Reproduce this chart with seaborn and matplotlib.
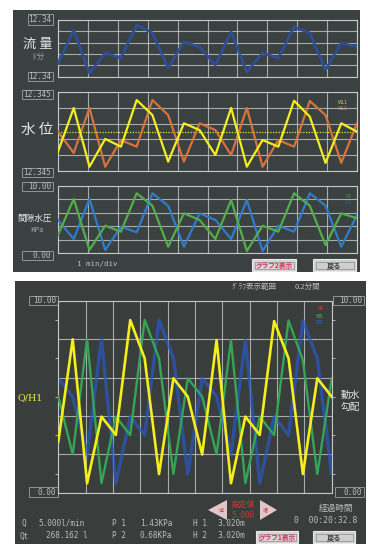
import numpy as np
import pandas as pd
import seaborn as sns
import matplotlib
matplotlib.use("Agg")
import matplotlib.pyplot as plt
from matplotlib.patches import Rectangle, Polygon

# ---------------- data ----------------
steps = list(range(20))
flow = [1.18, 4.12, 0.30, 2.09, 1.65, 4.56, 3.86, 0.77, 3.06, 2.62,
        1.03, 3.95, 0.41, 2.09, 1.65, 4.39, 3.86, 0.59, 2.97, 2.62]
wl1 = [1.22, 3.99, 0.27, 2.03, 1.54, 4.49, 3.54, 0.59, 3.02, 2.59,
       1.01, 3.99, 0.27, 1.96, 1.54, 4.45, 3.44, 0.51, 3.02, 2.49]
wl2 = [2.49, 1.14, 3.99, 0.27, 1.96, 1.54, 4.49, 3.54, 0.59, 3.02,
       2.59, 1.01, 3.99, 0.27, 1.96, 1.54, 4.43, 3.54, 0.51, 3.02]
p1 = [2.72, 8.07, 0.49, 4.10, 3.21, 8.92, 7.07, 0.98, 5.94, 4.95,
      2.12, 7.92, 0.34, 4.10, 3.21, 8.92, 7.07, 1.23, 5.94, 5.20]
p2 = [4.95, 2.12, 8.07, 0.49, 3.95, 3.12, 8.92, 7.07, 0.98, 5.94,
      4.95, 2.12, 7.92, 0.34, 4.10, 3.21, 8.92, 7.07, 0.98, 5.69]
qh1 = [2.66, 7.99, 0.49, 3.96, 3.01, 8.99, 7.00, 0.97, 5.96, 5.00,
       1.99, 7.95, 0.49, 3.96, 3.01, 8.94, 7.00, 0.97, 5.96, 5.00]
grad1 = [5.00, 2.00, 8.00, 0.50, 3.96, 3.00, 9.00, 7.00, 0.97, 5.96,
         5.00, 2.00, 7.95, 0.50, 3.96, 3.00, 8.97, 6.90, 0.97, 5.96]
grad2 = [5.96, 5.00, 2.00, 8.00, 0.50, 3.96, 3.00, 9.00, 7.00, 0.97,
         5.96, 5.00, 2.00, 7.95, 0.50, 3.96, 3.00, 8.95, 7.00, 0.97]
wl_ref = 2.5

plt.rcParams['font.family'] = ['Noto Sans CJK JP', 'DejaVu Sans']
MONO = 'DejaVu Sans Mono'

W, H = 368, 544
fig = plt.figure(figsize=(W / 100, H / 100), dpi=100)
fig.patch.set_facecolor('white')

# background axes in pixel coordinates
bg = fig.add_axes([0, 0, 1, 1])
bg.set_xlim(0, W)
bg.set_ylim(H, 0)
bg.axis('off')

bg.add_patch(Rectangle((13, 10), 347, 262, facecolor='#3b4040', edgecolor='none'))
bg.add_patch(Rectangle((15, 281), 351, 263, facecolor='#393e3d', edgecolor='none'))

GRID = '#c4c8c8'
TXT = '#b9bebe'


def panel(x0, y0, x1, y1, ymax):
    ax = fig.add_axes([x0 / W, 1 - y1 / H, (x1 - x0) / W, (y1 - y0) / H])
    ax.set_facecolor('none')
    ax.set_xlim(0, 19)
    ax.set_ylim(0, ymax)
    ax.set_xticks(np.linspace(0, 19, 11))
    ax.set_yticks(np.linspace(0, ymax, 6))
    ax.grid(True, color=GRID, lw=0.8, alpha=0.8)
    ax.tick_params(length=0, labelbottom=False, labelleft=False)
    for s in ax.spines.values():
        s.set_color(GRID)
        s.set_linewidth(0.8)
    return ax


def draw(ax, y, color, lw, alpha=1.0, z=3):
    df = pd.DataFrame({'t': steps, 'v': y})
    sns.lineplot(data=df, x='t', y='v', ax=ax, color=color, lw=lw,
                 alpha=alpha, zorder=z, estimator=None, sort=False)
    ax.set_xlabel('')
    ax.set_ylabel('')


# ---- top screen panels ----
a1 = panel(58, 20, 357, 76.7, 5)
draw(a1, flow, '#2c4f95', 2.0)

a2 = panel(58, 92, 357, 171, 5)
a2.axhline(wl_ref, color='#e8e640', ls=(0, (1, 1.2)), lw=0.9, zorder=2)
draw(a2, wl2, '#d6733c', 1.6, z=3)
draw(a2, wl1, '#f2ee22', 1.6, z=4)

a3 = panel(58, 186, 357, 253.3, 10)
draw(a3, p2, '#2f7cc9', 1.6, z=3)
draw(a3, p1, '#53ad4c', 1.6, z=4)

# ---- bottom screen panel ----
a4 = panel(58.3, 300.7, 331.7, 492.7, 10)
a4.set_yticks(np.arange(1, 10, 2), minor=True)
a4.tick_params(which='minor', length=2.5, direction='out', color=GRID,
               left=True, right=True, labelleft=False)
draw(a4, grad2, '#2a58c4', 2.4, alpha=0.7, z=2)
draw(a4, grad1, '#35a455', 1.7, z=3)
draw(a4, qh1, '#f5ee1c', 1.9, z=4)


# ---------------- texts ----------------
def box(x0, y0, x1, y1, label, fs=5.6):
    bg.add_patch(Rectangle((x0, y0), x1 - x0, y1 - y0, facecolor='none',
                           edgecolor='#8f9595', lw=0.7))
    bg.text(x1 - 1.5, (y0 + y1) / 2 + 0.3, label, ha='right', va='center',
            fontsize=fs, color=TXT, family=MONO)


box(27.5, 14, 52.5, 25, '12.34')
box(27.5, 72, 52.5, 81, '12.34')
box(22, 90, 52.5, 99, '12.345')
box(22, 168, 52.5, 177, '12.345')
box(22, 181.5, 52.5, 190.5, '10.00')
box(22, 250.5, 52.5, 259.5, '0.00')

bg.text(37.5, 44, '流 量', ha='center', va='center', fontsize=9.5, color='#e6e8e8')
bg.text(38, 57, 'l/分', ha='center', va='center', fontsize=5.2, color='#9ea4a4')
bg.text(37, 130, '水 位', ha='center', va='center', fontsize=10.5, color='#e6e8e8')
bg.text(34.5, 218, '間隙水圧', ha='center', va='center', fontsize=6.2, color='#e6e8e8')
bg.text(37, 230, 'KPa', ha='center', va='center', fontsize=5.2, color='#a8aeae')
bg.text(97, 264, '1 min/div', ha='center', va='center', fontsize=5.3,
        color=TXT, family=MONO)

bg.text(338, 103, 'WL1', fontsize=3.6, color='#c9c374', va='center')
bg.text(338, 108, 'WL2', fontsize=3.6, color='#c08055', va='center')
bg.text(345, 197, 'P1', fontsize=3.8, color='#4f9a4a', va='center')
bg.text(345, 203, 'P2', fontsize=3.8, color='#2d5f99', va='center')


def button(x0, y0, x1, y1, label, tcol, fcol, fs=4.8):
    bg.add_patch(Rectangle((x0, y0), x1 - x0, y1 - y0, facecolor=fcol,
                           edgecolor='#e8e8e8', lw=0.8))
    bg.add_patch(Rectangle((x0 + 2.5, y0 + 2.5), x1 - x0 - 5, y1 - y0 - 5,
                           facecolor='none', edgecolor='#8c8c8c', lw=0.5))
    bg.text((x0 + x1) / 2, (y0 + y1) / 2 + 0.3, label, ha='center', va='center',
            fontsize=fs, color=tcol, fontweight='bold')


button(252, 259, 296, 271, 'グラフ2表示', '#d8305c', '#d9d3d6')
button(313, 259, 356, 271, '戻る', '#3a3a3a', '#cfcfcf', fs=5.2)

# bottom screen
bg.text(232, 287, 'ｸﾞﾗﾌ表示範囲', ha='left', va='center', fontsize=5.4, color=TXT)
bg.text(295, 287, '0.2分間', ha='left', va='center', fontsize=5.4, color=TXT)
box(29, 296, 58, 305, '10.00')
box(333, 296, 364, 305, '10.00')
box(29, 487, 58, 497, '0.00')
box(335, 487, 364, 497, '0.00')

bg.text(30.5, 398, 'Q/H1', ha='center', va='center', fontsize=6.8,
        color='#eee640', family=['DejaVu Serif'])
bg.text(350, 395, '動水', ha='center', va='center', fontsize=7, color='#e6e8e8')
bg.text(350, 407, '勾配', ha='center', va='center', fontsize=7, color='#e6e8e8')

bg.text(318, 309, '中', fontsize=3.8, color='#c04545', va='center')
bg.text(316, 316, '間1', fontsize=3.8, color='#3d9a55', va='center')
bg.text(316, 322, '間2', fontsize=3.8, color='#2d55a5', va='center')

bg.add_patch(Polygon([[208, 510], [227, 500], [227, 520]], closed=True,
                     facecolor='#e2c6c8', edgecolor='none'))
bg.add_patch(Polygon([[277, 510], [260, 500], [260, 520]], closed=True,
                     facecolor='#e2c6c8', edgecolor='none'))
bg.text(221, 510, '減', fontsize=3.5, color='#c03040', ha='center', va='center')
bg.text(265, 510, '増', fontsize=3.5, color='#c03040', ha='center', va='center')
bg.text(243, 505, '設定値', fontsize=5.6, color='#c23a3a', ha='center', va='center')
bg.text(243, 515.5, '5.000', fontsize=5.6, color='#c23a3a', ha='center', va='center',
        family=MONO)

bg.text(336, 508, '経過時間', fontsize=6.2, color=TXT, ha='center', va='center')
bg.text(357, 520.5, '0  00:20:32.8', fontsize=5.8, color=TXT, ha='right', va='center',
        family=MONO)

info = [(22, 523, 'Q'), (38, 523, '5.000l/min'), (20, 536, 'Qt'), (46, 536, '268.162 l'),
        (112, 523, 'P 1'), (140, 523, '1.43KPa'), (112, 536, 'P 2'), (140, 536, '0.68KPa'),
        (193, 523, 'H 1'), (217, 523, '3.020m'), (193, 536, 'H 2'), (217, 536, '3.020m')]
for x, y, s in info:
    bg.text(x, y, s, fontsize=5.6, color=TXT, ha='left', va='center', family=MONO)

button(256, 531, 298, 543, 'グラフ1表示', '#d8305c', '#d9d3d6')
button(313, 531, 355, 543, '戻る', '#3a3a3a', '#cfcfcf', fs=5.2)

fig.savefig('out.png', dpi=100, facecolor='white')
